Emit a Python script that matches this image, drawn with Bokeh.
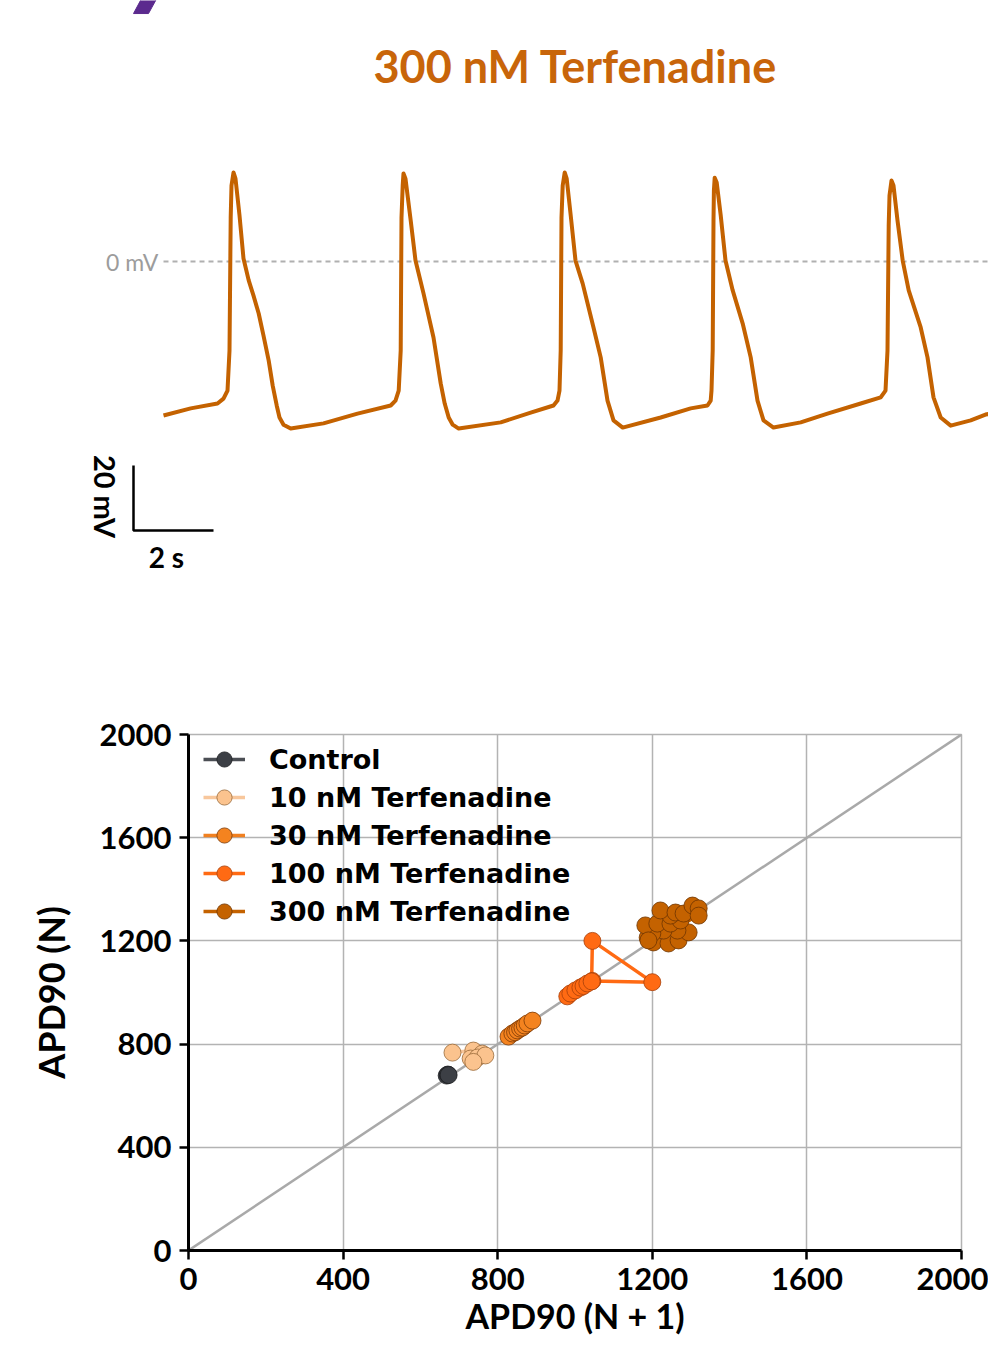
from bokeh.plotting import figure
from bokeh.layouts import column
from bokeh.models import Label, Legend, LegendItem, FixedTicker
from bokeh.embed import file_html
from bokeh.resources import INLINE

# ---------------- Trace data (time in s, membrane potential in mV) ----------------
trace_t = [0.00, 0.68, 1.35, 1.50, 1.60, 1.65, 1.68, 1.70, 1.75, 1.80, 1.90, 2.00, 2.13, 2.25,
           2.38, 2.50, 2.63, 2.73, 2.83, 2.90, 3.00, 3.18, 4.00, 4.85, 5.68, 5.80, 5.88, 5.93,
           5.95, 5.98, 6.00, 6.05, 6.18, 6.30, 6.50, 6.75, 6.93, 7.03, 7.13, 7.23, 7.38, 8.43,
           9.18, 9.75, 9.85, 9.90, 9.93,
           9.95, 9.98, 10.03, 10.08, 10.18, 10.30, 10.48, 10.75, 10.93, 11.10, 11.25, 11.48,
           12.43, 13.18, 13.60, 13.68, 13.70, 13.73,
           13.75, 13.76, 13.78, 13.83, 13.93, 14.05, 14.23, 14.48, 14.68, 14.85, 15.00, 15.25,
           15.93, 16.60, 17.43, 17.93, 18.05, 18.10,
           18.13, 18.15, 18.20, 18.25, 18.35, 18.48, 18.63, 18.93, 19.10, 19.25, 19.43, 19.68,
           20.18, 20.55, 20.68]
trace_mv = [-47.4, -45.2, -43.7, -42.2, -39.7, -27.4, 13.5, 23.4, 27.4, 25.5, 14.2, 0.9, -5.8, -10.5,
            -16.0, -22.8, -30.5, -38.2, -44.3, -48.0, -50.2, -51.4, -49.8, -46.8, -44.3, -42.8, -39.7, -27.4,
            13.5, 23.4, 27.1, 25.5, 12.6, 0.3, -9.8, -23.4, -37.5, -43.7, -48.0, -50.2, -51.4, -49.5,
            -46.5, -44.3, -42.8, -39.7, -27.4,
            13.5, 23.4, 27.4, 25.5, 14.2, 0.3, -6.8, -20.3, -29.5, -42.8, -48.9, -51.1,
            -48.0, -45.2, -44.3, -42.8, -39.7, -27.4,
            12.6, 21.8, 25.8, 24.3, 14.2, 0.3, -8.9, -19.1, -29.5, -42.8, -48.9, -51.1,
            -49.5, -46.8, -43.7, -41.8, -39.7, -27.4,
            11.1, 20.3, 24.9, 23.4, 12.6, 0.3, -8.9, -20.3, -29.5, -41.8, -48.0, -50.5,
            -48.9, -47.1, -46.8]
zero_line_t = [0.0, 20.7]
zero_line_mv = [0.0, 0.0]
scalebar_t = [-0.75, -0.75, 1.25]      # 2 s horizontal
scalebar_mv = [-62.8, -82.8, -82.8]    # 20 mV vertical
logo_t = [-0.75, -0.375, -0.13, -0.51]
logo_mv = [76.3, 76.3, 81.8, 81.8]

# ---------------- Poincare data: APD90 (N + 1) vs APD90 (N), ms ----------------
series_names = ["Control", "10 nM Terfenadine", "30 nM Terfenadine",
                "100 nM Terfenadine", "300 nM Terfenadine"]
control_x = [668, 671, 673]
control_y = [678, 682, 680]
t10_x = [683, 737, 760, 730, 748, 768, 737]
t10_y = [767, 775, 763, 744, 748, 756, 731]
t30_x = [828, 838, 845, 851, 858, 864, 870, 877, 890]
t30_y = [829, 841, 846, 853, 860, 864, 872, 880, 891]
t100_x = [980, 988, 1001, 1014, 1022, 1032, 1045, 1200, 1045, 1043]
t100_y = [985, 996, 1008, 1019, 1025, 1035, 1045, 1040, 1200, 1043]
t300_x = [1188, 1203, 1242, 1268, 1294, 1265, 1229, 1200, 1182, 1213, 1247, 1273, 1247, 1221,
          1260, 1281, 1304, 1320, 1320, 1190]
t300_y = [1213, 1194, 1190, 1202, 1233, 1240, 1240, 1229, 1260, 1267, 1267, 1279, 1298, 1318,
          1310, 1306, 1337, 1326, 1298, 1202]
identity_x = [0, 2000]
identity_y = [0, 2000]
ticks = [0, 400, 800, 1200, 1600, 2000]

series_fill = ["#3c3f45", "#fbc38e", "#f4831f", "#ff6a13", "#c46200"]
series_line = ["#4b4e54", "#f8c79c", "#f08020", "#ff6a13", "#c46200"]
series_edge = ["#1e1f22", "#9a6a3a", "#7a3a06", "#a8400a", "#6e3400"]

TRACE = "#c46200"

# ================= Top: action potential trace =================
p1 = figure(width=988, height=616, x_range=(-4.075, 20.625), y_range=(-109.23, 80.31),
            x_axis_type=None, y_axis_type=None, toolbar_location=None,
            output_backend="svg", min_border=0, outline_line_color=None)
p1.frame_align = False
p1.grid.visible = False
p1.background_fill_color = "white"
p1.border_fill_color = "white"

p1.patch(logo_t, logo_mv, fill_color="#5b2a8e", line_color="#5b2a8e")
p1.line(zero_line_t, zero_line_mv, line_color="#b0b0b0", line_width=2, line_dash="5 4")
p1.line(trace_t, trace_mv, line_color=TRACE, line_width=4, line_join="round")
p1.line(scalebar_t, scalebar_mv, line_color="black", line_width=2.5)

p1.add_layout(Label(x=10.3, y=60.3, text="300 nM Terfenadine", text_align="center",
                    text_baseline="middle", text_font="Lato", text_font_style="bold",
                    text_font_size="45px", text_color="#c8650a"))
p1.add_layout(Label(x=-0.13, y=0, text="0 mV", text_align="right", text_baseline="middle",
                    text_font="Lato", text_font_size="23px", text_color="#9c9c9c"))
p1.add_layout(Label(x=-1.45, y=-72.3, text="20 mV", angle=-1.5708, text_align="center",
                    text_baseline="middle", text_font="Lato", text_font_style="bold",
                    text_font_size="29px", text_color="black"))
p1.add_layout(Label(x=0.075, y=-90.8, text="2 s", text_align="center", text_baseline="middle",
                    text_font="Lato", text_font_style="bold", text_font_size="28px",
                    text_color="black"))

# ================= Bottom: Poincare plot =================
p2 = figure(width=988, height=730, x_range=(0, 2000), y_range=(0, 2000),
            toolbar_location=None, output_backend="svg",
            min_border_left=188, min_border_right=27, min_border_top=118, min_border_bottom=96)
p2.frame_align = False
p2.background_fill_color = "white"
p2.border_fill_color = "white"
p2.outline_line_color = "#b3b3b3"
p2.outline_line_width = 1.5

for ax in (p2.xaxis, p2.yaxis):
    ax.ticker = FixedTicker(ticks=ticks)
    ax.axis_line_width = 3
    ax.axis_line_color = "black"
    ax.major_tick_line_width = 2.5
    ax.major_tick_line_color = "black"
    ax.major_tick_out = 9
    ax.major_tick_in = 0
    ax.minor_tick_line_color = None
    ax.major_label_text_font = "Lato"
    ax.major_label_text_font_style = "bold"
    ax.major_label_text_font_size = "31px"
    ax.major_label_text_color = "black"
    ax.major_label_standoff = 8

p2.yaxis.axis_label = "APD90 (N)"
p2.yaxis.axis_label_text_font = "Lato"
p2.yaxis.axis_label_text_font_style = "bold"
p2.yaxis.axis_label_text_font_size = "36px"
p2.yaxis.axis_label_text_color = "black"
p2.yaxis.axis_label_standoff = 24

p2.xaxis.axis_label = "APD90 (N + 1)"
p2.xaxis.axis_label_text_font = "Lato"
p2.xaxis.axis_label_text_font_style = "bold"
p2.xaxis.axis_label_text_font_size = "34px"
p2.xaxis.axis_label_text_color = "black"
p2.xaxis.axis_label_standoff = 2

p2.grid.ticker = FixedTicker(ticks=ticks)
p2.grid.grid_line_color = "#b3b3b3"
p2.grid.grid_line_width = 1.5

p2.line(identity_x, identity_y, line_color="#a9a9a9", line_width=2.5)

xs = [control_x, t10_x, t30_x, t100_x, t300_x]
ys = [control_y, t10_y, t30_y, t100_y, t300_y]
items = []
for i, name in enumerate(series_names):
    lr = p2.line(xs[i], ys[i], line_color=series_line[i], line_width=3.5, line_join="round")
    sr = p2.scatter(xs[i], ys[i], size=17, fill_color=series_fill[i],
                    line_color=series_edge[i], line_width=1, line_alpha=0.8)
    items.append(LegendItem(label=name, renderers=[lr, sr]))

legend = Legend(items=items, location=(15, 320), margin=0, padding=0,
                background_fill_alpha=0, border_line_color=None,
                label_text_font="DejaVu Sans", label_text_font_style="bold",
                label_text_font_size="27px", label_text_color="black",
                glyph_width=42, glyph_height=38, label_height=38, spacing=0,
                label_standoff=24)
p2.add_layout(legend)

layout = column(p1, p2, spacing=0)
open("out.html", "w").write(file_html(layout, INLINE))
